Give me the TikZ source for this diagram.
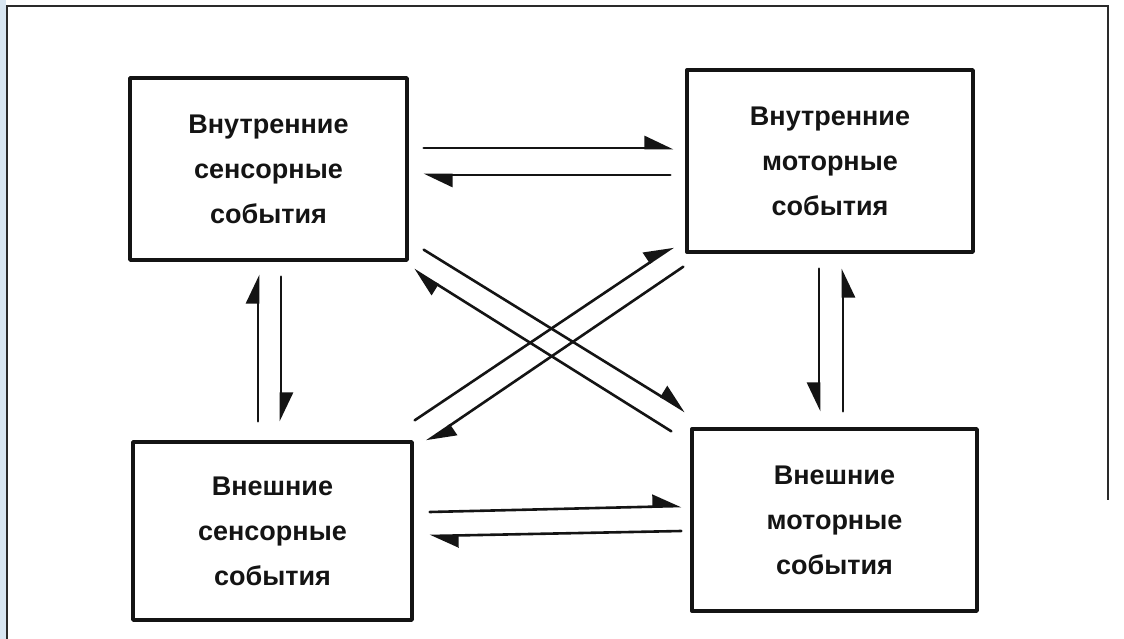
\documentclass[tikz,border=0pt]{standalone}
\usepackage{fontspec}
\setmainfont{Liberation Sans}
\usepackage{xcolor}
\usetikzlibrary{arrows.meta}
\definecolor{ink}{HTML}{141414}
\definecolor{frame}{HTML}{2A2A2A}
\definecolor{edge}{HTML}{D8E6F2}
\tikzset{
  box/.style={draw=ink, line width=3.4pt, line join=round, inner sep=0pt, align=center,
    font=\bfseries\fontsize{27}{45}\selectfont, text=ink},
  arr/.style={draw=ink, line width=2.6pt, line cap=round,
    -{Triangle[harpoon, length=26pt, width=24pt]}},
  arrs/.style={draw=ink, line width=2.6pt, line cap=round,
    -{Triangle[harpoon, swap, length=26pt, width=24pt]}},
}

\begin{document}
\begin{tikzpicture}[x=1pt,y=-1pt]
  \useasboundingbox (0,0) rectangle (1124,639);
  \fill[white] (0,0) rectangle (1124,639);
  \fill[edge] (0,0) rectangle (6,639);
  \draw[frame, line width=2pt] (7,639) -- (7,6) -- (1108,6) -- (1108,500);
  % the four boxes
  \node[box, minimum width=277pt, minimum height=182pt] (insens) at (268.5,169)
    {Внутренние\\сенсорные\\события};
  \node[box, minimum width=286pt, minimum height=182pt] (inmot) at (830,161)
    {Внутренние\\моторные\\события};
  \node[box, minimum width=279pt, minimum height=178pt] (exsens) at (272.5,531)
    {Внешние\\сенсорные\\события};
  \node[box, minimum width=285pt, minimum height=182pt] (exmot) at (834.5,520)
    {Внешние\\моторные\\события};
  % horizontal pairs
  \draw[arr] ([xshift=15pt,yshift=21pt]insens.east) -- ([xshift=-12pt,yshift=13pt]inmot.west);
  \draw[arr] ([xshift=-15pt,yshift=-14pt]inmot.west) -- ([xshift=15pt,yshift=-6pt]insens.east);
  \draw[arr] ([xshift=16pt,yshift=19pt]exsens.east) -- ([xshift=-9pt,yshift=14pt]exmot.west);
  \draw[arr] ([xshift=-9pt,yshift=-11pt]exmot.west) -- ([xshift=16pt,yshift=-5pt]exsens.east);
  % vertical pairs
  \draw[arr] ([xshift=-14.5pt,yshift=19pt]exsens.north) -- ([xshift=-10.5pt,yshift=-13pt]insens.south);
  \draw[arr] ([xshift=12.5pt,yshift=-15pt]insens.south) -- ([xshift=8.5pt,yshift=19pt]exsens.north);
  \draw[arrs] ([xshift=-11pt,yshift=-15pt]inmot.south) -- ([xshift=-15.5pt,yshift=16pt]exmot.north);
  \draw[arrs] ([xshift=8.5pt,yshift=16pt]exmot.north) -- ([xshift=13pt,yshift=-15pt]inmot.south);
  % diagonals
  \draw[arr] ([xshift=15pt,yshift=12pt]insens.south east) -- ([xshift=-5pt,yshift=16pt]exmot.north west);
  \draw[arr] ([xshift=-19pt,yshift=-4pt]exmot.north west) -- ([xshift=5pt,yshift=-8pt]insens.south east);
  \draw[arr] ([xshift=1pt,yshift=20pt]exsens.north east) -- ([xshift=-12pt,yshift=7pt]inmot.south west);
  \draw[arr] ([xshift=-2pt,yshift=-13pt]inmot.south west) -- ([xshift=13pt,yshift=-1pt]exsens.north east);
\end{tikzpicture}
\end{document}
